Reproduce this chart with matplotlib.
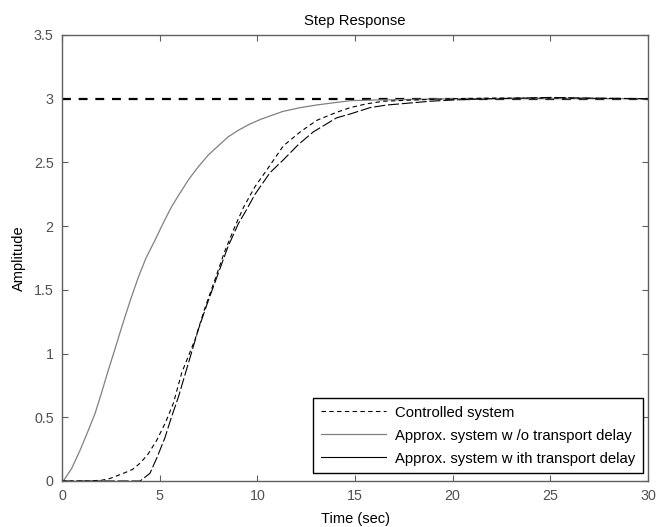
import matplotlib
matplotlib.use("Agg")
import matplotlib.pyplot as plt
from matplotlib.lines import Line2D

plt.rcParams['font.family'] = ['Liberation Sans', 'DejaVu Sans']

# Approx. system without transport delay
t_nodelay = [0, 0.07, 0.5, 0.92, 1.3, 1.69, 2.0, 2.37, 2.7, 3.06, 3.5, 3.91, 4.3, 4.76, 5.2, 5.6, 6.0,
             6.5, 7.0, 7.5, 8.0, 8.5, 9.0, 9.6, 10.2, 11.3, 12.2, 13.0, 14.0, 14.8, 16.0, 18.0, 20.0, 25.0, 30.0]
v_nodelay = [0, 0.0, 0.1, 0.24, 0.38, 0.53, 0.68, 0.87, 1.03, 1.21, 1.42, 1.60, 1.75, 1.89, 2.03, 2.15, 2.25,
             2.37, 2.47, 2.56, 2.63, 2.70, 2.75, 2.80, 2.84, 2.90, 2.93, 2.95, 2.97, 2.985, 2.99, 2.995, 3.0, 3.0, 3.0]

# Controlled system
t_ctrl = [0, 1.0, 2.0, 2.46, 3.14, 3.6, 4.0, 4.4, 4.85, 5.3, 5.7, 6.13, 6.81, 7.3, 7.83, 8.3, 8.86, 9.3,
          9.88, 10.48, 11.33, 12.2, 13.04, 14.0, 14.75, 15.6, 16.45, 18.0, 20.0, 22.0, 25.0, 30.0]
v_ctrl = [0, 0.0, 0.005, 0.02, 0.06, 0.09, 0.14, 0.21, 0.32, 0.46, 0.61, 0.85, 1.11, 1.35, 1.58, 1.79, 2.0, 2.15,
          2.31, 2.44, 2.63, 2.74, 2.83, 2.89, 2.93, 2.96, 2.98, 2.99, 3.0, 3.005, 3.005, 3.0]

# Approx. system with transport delay
t_delay = [0, 2.0, 3.5, 4.0, 4.5, 4.85, 5.27, 5.6, 5.96, 6.5, 6.98, 7.5, 8.0, 8.5, 9.03, 9.45, 9.88,
           10.65, 11.33, 12.1, 12.87, 14.06, 14.75, 15.77, 16.6, 18.84, 20.0, 22.0, 25.0, 27.0, 30.0]
v_delay = [0, 0.0, 0.0, 0.0, 0.06, 0.18, 0.34, 0.50, 0.66, 0.94, 1.19, 1.42, 1.63, 1.84, 2.02, 2.13, 2.25,
           2.42, 2.52, 2.64, 2.74, 2.85, 2.88, 2.93, 2.95, 2.98, 2.99, 3.0, 3.01, 3.005, 3.0]

ref_t = [0, 30]
ref_v = [3, 3]

x_ticks = [0, 5, 10, 15, 20, 25, 30]
y_ticks = [0, 0.5, 1, 1.5, 2, 2.5, 3, 3.5]
y_ticklabels = ['0', '0.5', '1', '1.5', '2', '2.5', '3', '3.5']
legend_labels = ['Controlled system', 'Approx. system w /o transport delay',
                 'Approx. system w ith transport delay']

fig = plt.figure(figsize=(6.57, 5.27), dpi=100)
ax = fig.add_axes([0.0944, 0.0873, 0.8919, 0.8463])

ax.plot(ref_t, ref_v, color='black', lw=1.6, dashes=(4, 3.5))
ax.plot(t_nodelay, v_nodelay, color='#808080', lw=0.9)
ax.plot(t_ctrl, v_ctrl, color='black', lw=0.8, dashes=(4, 3))
ax.plot(t_delay, v_delay, color='black', lw=0.8, dashes=(10, 2.5))

ax.set_xlim(0, 30)
ax.set_ylim(0, 3.5)
ax.set_xticks(x_ticks)
ax.set_xticklabels([str(x) for x in x_ticks])
ax.set_yticks(y_ticks)
ax.set_yticklabels(y_ticklabels)
ax.tick_params(direction='in', top=True, right=True, length=4, width=0.8,
               colors='#606060', labelsize=10.3, labelcolor='#505050', pad=6)
for s in ax.spines.values():
    s.set_color('#606060')
    s.set_linewidth(1.0)

ax.set_title('Step Response', fontsize=10.7, pad=7)
ax.set_xlabel('Time (sec)', fontsize=10.5, labelpad=6)
ax.set_ylabel('Amplitude', fontsize=10.5, labelpad=6)

handles = [Line2D([], [], color='black', lw=0.8, dashes=(4, 3)),
           Line2D([], [], color='#808080', lw=0.9),
           Line2D([], [], color='black', lw=0.8)]
leg = ax.legend(handles, legend_labels, loc='lower right', bbox_to_anchor=(0.991, 0.018),
                borderaxespad=0, fontsize=10.7, fancybox=False, framealpha=1,
                edgecolor='black', handlelength=4.4, labelspacing=0.6, borderpad=0.5,
                handletextpad=0.6, handleheight=0.7)
leg.get_frame().set_linewidth(1.0)

fig.savefig('out.png', dpi=100)
